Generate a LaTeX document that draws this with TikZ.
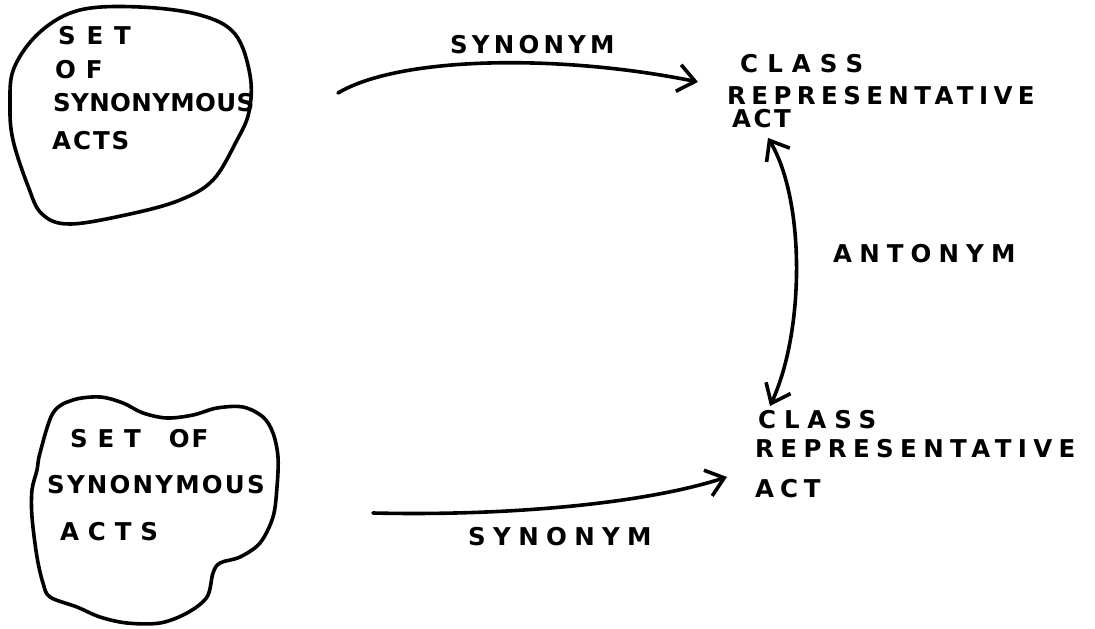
\documentclass[tikz,border=0pt]{standalone}
\usepackage{fontspec}
\setmainfont{DejaVu Sans}
\usetikzlibrary{arrows.meta,calc}
% letter-spaced lettering
\newcommand\spaced[2]{{\addfontfeature{LetterSpace=#1}#2}}

\begin{document}
\begin{tikzpicture}[x=1pt,y=-1pt,
  ink/.style={line width=3.6pt, line cap=round, line join=round},
  barbtip/.tip={Straight Barb[length=17pt,width=27pt]},
  link/.style={ink, -barbtip},
  twoway/.style={ink, barbtip-barbtip},
  hand/.style={font=\fontsize{24.5}{30}\selectfont\bfseries, inner sep=0pt, align=left}]

\useasboundingbox (0,0) rectangle (1095,629);

% upper set
\draw[ink] plot[smooth cycle, tension=0.6] coordinates {
  (10,105) (14,68) (40,32) (80,10) (140,7) (200,15) (235,34) (250,75)
  (249,112) (236,142) (213,180) (180,200) (130,214) (70,224) (42,214)
  (28,186) (13,140)};
\node[hand, anchor=north west] (set1) at (52,26) {%
  \hspace*{6pt}\spaced{44}{SET}\\[4pt]
  \hspace*{3pt}\spaced{40}{OF}\\[3pt]
  \hspace*{1pt}\spaced{1.5}{SYNONYMOUS}\\[8pt]
  \spaced{8}{ACTS}};

% lower set
\draw[ink] plot[smooth cycle, tension=0.55] coordinates {
  (40,453) (53,413) (73,400) (100,397) (123,403) (143,413) (167,418)
  (193,415) (217,408) (243,407) (263,417) (273,433) (278,457) (277,487)
  (273,517) (260,543) (240,557) (220,563) (213,573) (207,597) (187,613)
  (160,623) (127,623) (100,617) (77,607) (50,597) (43,583) (37,557)
  (32,517) (32,490) (37,470)};
\node[hand, anchor=north west] (set2) at (47,429) {%
  \hspace*{23pt}\spaced{40}{SET}\hspace{28pt}\spaced{8}{OF}\\[16pt]
  \spaced{9}{SYNONYMOUS}\\[17pt]
  \hspace*{13pt}\spaced{36}{ACTS}};

% class representatives
\node[hand, anchor=north west] (cr1) at (727,54) {%
  \hspace*{13pt}\spaced{37}{CLASS}\\[2pt]
  \spaced{22}{REPRESENTATIVE}\\[-7pt]
  \hspace*{5pt}\spaced{10}{ACT}};
\node[hand, anchor=north west] (cr2) at (755,410) {%
  \hspace*{3pt}\spaced{32}{CLASS}\\[-1pt]
  \spaced{26}{REPRESENTATIVE}\\[10pt]
  \spaced{24}{ACT}};

% free ends of the synonym arrows
\coordinate (s1) at (338,93);
\coordinate (s2) at (373,513);

\draw[link] (s1) .. controls (400,56) and (560,54) .. ($(cr1.west)+(-29,-9)$);
\draw[link] (s2) .. controls (500,516) and (640,505) .. ($(cr2.west)+(-28,23)$);
\draw[twoway] ($(cr1.south west)+(41,10)$) .. controls (805,200) and (805,330) .. ($(cr2.north west)+(15,-4)$);

% relation labels
\node[hand, anchor=base west] (syn1) at (450,53) {\spaced{17}{SYNONYM}};
\node[hand, anchor=base west] (syn2) at (468,545) {\spaced{30}{SYNONYM}};
\node[hand, anchor=base west] (ant) at (833,262) {\spaced{29}{ANTONYM}};
\end{tikzpicture}
\end{document}
